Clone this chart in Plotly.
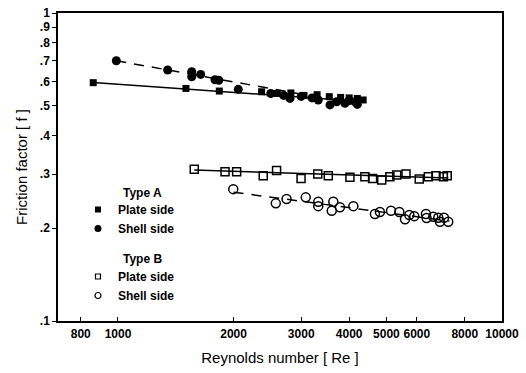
import plotly.graph_objects as go

# ---- data ----
re_a_plate = [862, 1503, 1836, 2366, 2600, 2820, 3050, 3300, 3550, 3800, 4000, 4200, 4350]
f_a_plate = [0.594, 0.569, 0.558, 0.555, 0.548, 0.550, 0.540, 0.543, 0.535, 0.532, 0.530, 0.528, 0.522]

re_a_shell = [990, 1347, 1556, 1556, 1642, 1789, 1830, 2057, 2500, 2700, 2805, 3000, 3200,
              3323, 3565, 3711, 3899, 4000, 4141, 4200]
f_a_shell = [0.700, 0.653, 0.645, 0.621, 0.632, 0.607, 0.605, 0.565, 0.548, 0.540, 0.528, 0.536,
             0.530, 0.522, 0.503, 0.515, 0.509, 0.520, 0.515, 0.505]

re_b_plate = [1580, 1900, 2037, 2389, 2588, 2997, 3313, 3529, 4018, 4395, 4603, 4862, 5106,
              5319, 5623, 6089, 6430, 6730, 7035, 7200]
f_b_plate = [0.311, 0.305, 0.305, 0.296, 0.308, 0.290, 0.300, 0.296, 0.293, 0.294, 0.290, 0.287,
             0.294, 0.298, 0.300, 0.289, 0.294, 0.296, 0.294, 0.296]

re_b_shell = [1996, 2576, 2748, 3083, 3323, 3323, 3603, 3637, 3784, 4101, 4667, 4809, 5140, 5403,
              5590, 5736, 5909, 6338, 6362, 6622, 6824, 6895, 7063, 7245]
f_b_shell = [0.268, 0.241, 0.249, 0.252, 0.244, 0.236, 0.228, 0.244, 0.234, 0.236, 0.2225, 0.226,
             0.228, 0.226, 0.214, 0.221, 0.219, 0.2225, 0.216, 0.218, 0.2165, 0.210, 0.2165, 0.210]

# fitted correlation lines (end points)
fit_a_plate_re = [862, 4400]
fit_a_plate_f = [0.595, 0.515]
fit_a_shell_re = [990, 4300]
fit_a_shell_f = [0.700, 0.503]
fit_b_plate_re = [1580, 7250]
fit_b_plate_f = [0.309, 0.291]
fit_b_shell_re = [2000, 7300]
fit_b_shell_f = [0.262, 0.211]

x_tickvals = [800, 1000, 2000, 3000, 4000, 5000, 6000, 8000, 10000]
x_ticktext = ["800", "1000", "2000", "3000", "4000", "5000", "6000", "8000", "10000"]
y_tickvals = [0.1, 0.2, 0.3, 0.4, 0.5, 0.6, 0.7, 0.8, 0.9, 1.0]
y_ticktext = [".1", ".2", ".3", ".4", ".5", ".6", ".7", ".8", ".9", "1"]

FONT = "Arial, Liberation Sans, sans-serif"

fig = go.Figure()

# fit lines
fig.add_trace(go.Scatter(x=fit_a_plate_re, y=fit_a_plate_f, mode="lines",
                         line=dict(color="black", width=1.5), showlegend=False, hoverinfo="skip"))
fig.add_trace(go.Scatter(x=fit_a_shell_re, y=fit_a_shell_f, mode="lines",
                         line=dict(color="black", width=1.5, dash="10px,8px"), showlegend=False, hoverinfo="skip"))
fig.add_trace(go.Scatter(x=fit_b_plate_re, y=fit_b_plate_f, mode="lines",
                         line=dict(color="black", width=1.5), showlegend=False, hoverinfo="skip"))
fig.add_trace(go.Scatter(x=fit_b_shell_re, y=fit_b_shell_f, mode="lines",
                         line=dict(color="black", width=1.5, dash="10px,8px"), showlegend=False, hoverinfo="skip"))

# data points
fig.add_trace(go.Scatter(x=re_a_plate, y=f_a_plate, mode="markers", showlegend=False,
                         marker=dict(symbol="square", size=7, color="black")))
fig.add_trace(go.Scatter(x=re_a_shell, y=f_a_shell, mode="markers", showlegend=False,
                         marker=dict(symbol="circle", size=9, color="black")))
fig.add_trace(go.Scatter(x=re_b_plate, y=f_b_plate, mode="markers", showlegend=False,
                         marker=dict(symbol="square-open", size=8, color="black",
                                     line=dict(width=1.5, color="black"))))
fig.add_trace(go.Scatter(x=re_b_shell, y=f_b_shell, mode="markers", showlegend=False,
                         marker=dict(symbol="circle-open", size=9, color="black",
                                     line=dict(width=1.5, color="black"))))

# legend entries (smaller symbols, as in the reference key)
legend_entries = [
    ("A", "square", 6, None),
    ("A", "circle", 7, None),
    ("B", "square-open", 5, 1.2),
    ("B", "circle-open", 6, 1.2),
]
legend_names = ["<b>Plate side</b>", "<b>Shell side</b>", "<b>Plate side</b>", "<b>Shell side</b>"]
for (grp, sym, sz, lw), nm in zip(legend_entries, legend_names):
    mk = dict(symbol=sym, size=sz, color="black")
    if lw:
        mk["line"] = dict(width=lw, color="black")
    fig.add_trace(go.Scatter(x=[None], y=[None], mode="markers", name=nm, legendgroup=grp,
                             marker=mk, hoverinfo="skip"))

axis_common = dict(showline=True, linecolor="black", linewidth=1.5, mirror=True,
                   showgrid=False, zeroline=False, automargin=False,
                   tickfont=dict(family=FONT, size=12, color="black", weight="bold"),
                   ticklen=4, tickwidth=1.2, tickcolor="black")

fig.update_xaxes(type="log", range=[2.8438, 4.0], tickmode="array",
                 tickvals=x_tickvals, ticktext=x_ticktext, ticks="inside",
                 ticklabelstandoff=1,
                 title=dict(text="Reynolds number [ Re ]", font=dict(family=FONT, size=15, color="black"),
                            standoff=12),
                 **axis_common)
fig.update_yaxes(type="log", range=[-1.0, 0.0], tickmode="array",
                 tickvals=y_tickvals, ticktext=y_ticktext, ticks="outside",
                 title=dict(text="Friction factor [ f ]", font=dict(family=FONT, size=15, color="black"),
                            standoff=9),
                 **axis_common)

fig.add_annotation(text="<b>Type A</b>", xref="paper", yref="paper", x=(121 - 58) / 444, y=(321 - 193) / 308,
                   xanchor="left", yanchor="middle", showarrow=False,
                   font=dict(family=FONT, size=12, color="black"))
fig.add_annotation(text="<b>Type B</b>", xref="paper", yref="paper", x=(121 - 58) / 444, y=(321 - 259) / 308,
                   xanchor="left", yanchor="middle", showarrow=False,
                   font=dict(family=FONT, size=12, color="black"))

fig.update_layout(
    width=526, height=373,
    margin=dict(l=58, r=24, t=13, b=52),
    paper_bgcolor="white", plot_bgcolor="white",
    showlegend=True,
    legend=dict(x=0.045, y=(321 - 195) / 308, xanchor="left", yanchor="top",
                bgcolor="rgba(0,0,0,0)", tracegroupgap=29,
                font=dict(family=FONT, size=12, color="black"),
                itemsizing="trace"),
)

fig.write_html("out.html")
